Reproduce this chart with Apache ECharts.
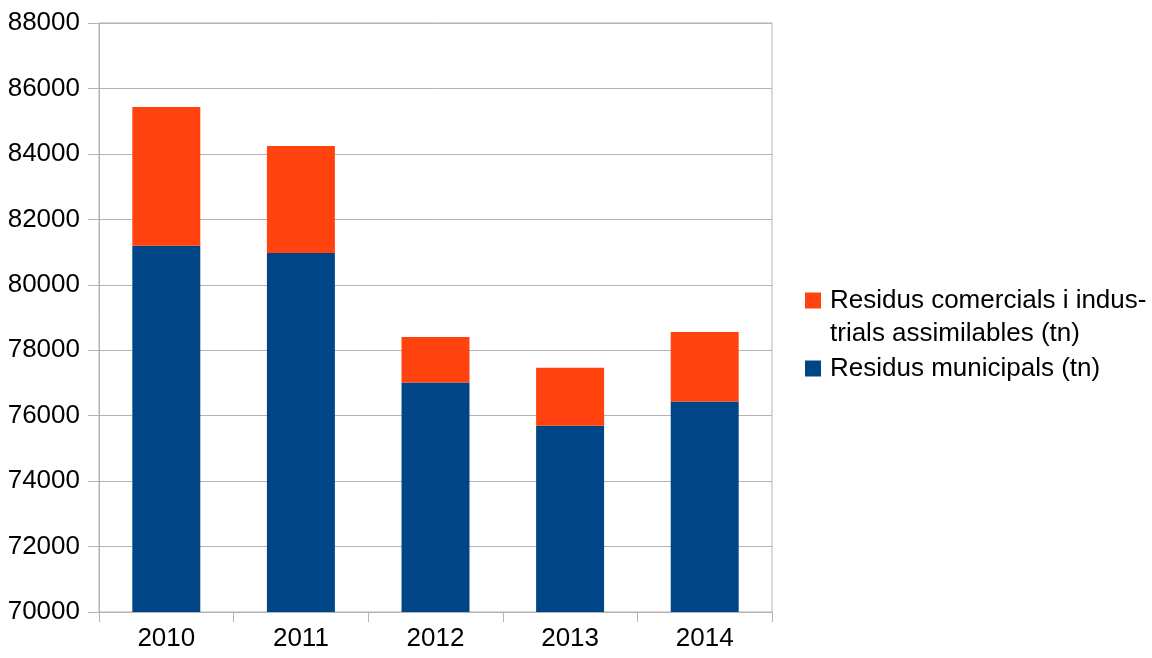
<!DOCTYPE html>
<html>
<head>
<meta charset="utf-8">
<script src="https://cdn.jsdelivr.net/npm/echarts@6/dist/echarts.min.js"></script>
<style>
html,body{margin:0;padding:0;background:#fff;}
#chart{width:1152px;height:658px;}
</style>
</head>
<body>
<div id="chart"></div>
<script>
var years = ['2010', '2011', '2012', '2013', '2014'];
var municipals = [81190, 80970, 77015, 75695, 76435];
var comercials = [4245, 3270, 1390, 1770, 2125];
var yTicks = { min: 70000, max: 88000, interval: 2000 };
var nameMunicipals = 'Residus municipals (tn)';
var nameComercials = 'Residus comercials i industrials assimilables (tn)';
var labelComercials = ' \nResidus comercials i indus-\ntrials assimilables (tn)';

var font = '"Liberation Sans", Arial, sans-serif';
var gridColor = '#b3b3b3';

var chart = echarts.init(document.getElementById('chart'));
chart.setOption({
  animation: false,
  backgroundColor: '#ffffff',
  textStyle: { fontFamily: font },
  grid: {
    left: 99, right: 380, top: 23, bottom: 46,
    show: true, borderColor: gridColor, borderWidth: 1, backgroundColor: 'transparent'
  },
  legend: [
    {
      data: [nameComercials],
      orient: 'vertical',
      left: 805, top: 251,
      padding: 0,
      itemWidth: 16, itemHeight: 16,
      icon: 'rect',
      formatter: function () { return labelComercials; },
      textStyle: { fontFamily: font, fontSize: 26, color: '#000', lineHeight: 33, padding: [0, 0, 0, 4] }
    },
    {
      data: [nameMunicipals],
      orient: 'vertical',
      left: 805, top: 352,
      padding: 0,
      itemWidth: 16, itemHeight: 16,
      icon: 'rect',
      textStyle: { fontFamily: font, fontSize: 26, color: '#000', lineHeight: 33, padding: [0, 0, 0, 4] }
    }
  ],
  xAxis: {
    type: 'category',
    data: years,
    axisLine: { show: true, lineStyle: { color: gridColor } },
    axisTick: { show: true, length: 10, lineStyle: { color: gridColor } },
    axisLabel: { fontFamily: font, fontSize: 26, color: '#000', margin: 14 },
    splitLine: { show: false }
  },
  yAxis: {
    type: 'value',
    min: yTicks.min, max: yTicks.max, interval: yTicks.interval,
    axisLine: { show: true, lineStyle: { color: gridColor } },
    axisTick: { show: true, length: 11, lineStyle: { color: gridColor } },
    axisLabel: { fontFamily: font, fontSize: 26, color: '#000', margin: 19, formatter: function (v) { return String(v); } },
    splitLine: { show: true, lineStyle: { color: gridColor } }
  },
  series: [
    {
      name: nameMunicipals,
      type: 'bar',
      stack: 'total',
      data: municipals,
      barWidth: '50.5%',
      itemStyle: { color: '#004586' }
    },
    {
      name: nameComercials,
      type: 'bar',
      stack: 'total',
      data: comercials,
      barWidth: '50.5%',
      itemStyle: { color: '#ff420e' }
    }
  ]
});
</script>
</body>
</html>
